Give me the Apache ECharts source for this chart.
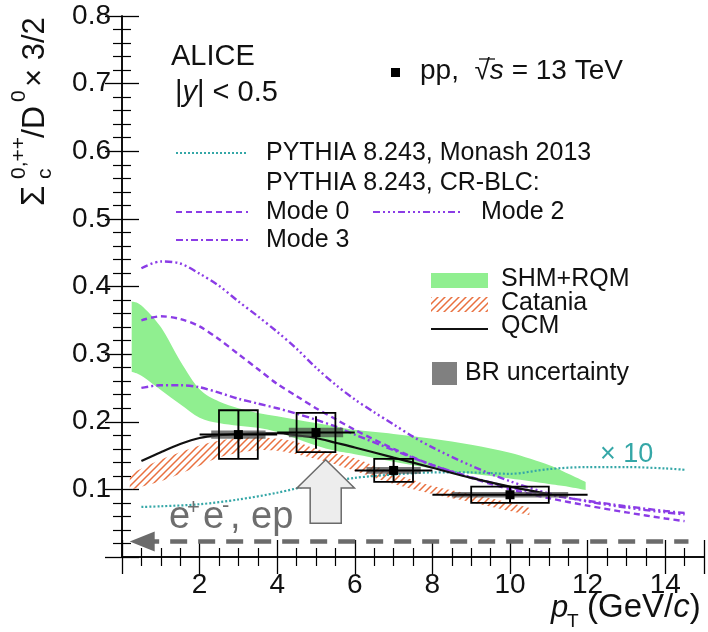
<!DOCTYPE html>
<html>
<head>
<meta charset="utf-8">
<script src="https://cdn.jsdelivr.net/npm/echarts/dist/echarts.min.js"></script>
<style>
  html, body { margin: 0; padding: 0; background: #fff; }
  #main { width: 708px; height: 632px; }
</style>
</head>
<body>
<div id="main"></div>
<script>
const FONT = '"Liberation Sans", Arial, sans-serif';

// ALICE points: pT centre, value, bin edges, errors
const ptX = [3, 5, 7, 10];
const ptY = [0.181, 0.184, 0.128, 0.092];
const binLo = [2, 4, 6, 8];
const binHi = [4, 6, 8, 12];
const statErr = [0.035, 0.024, 0.016, 0.012];
const systErr = [0.036, 0.029, 0.017, 0.012];
const systHalfW = [0.5, 0.5, 0.5, 1.0];
const brErr = [0.006, 0.007, 0.005, 0.004];
const brHalfW = [0.7, 0.7, 0.7, 1.5];

// SHM+RQM band
const shmX  = [0.25, 0.5, 1, 1.5, 2, 2.5, 3, 3.5, 4, 4.5, 5, 5.5, 6, 7, 8, 9, 10, 11, 11.5, 11.95];
const shmHi = [0.378, 0.372, 0.340, 0.290, 0.248, 0.230, 0.220, 0.213, 0.208, 0.203, 0.198, 0.193, 0.188, 0.182, 0.175, 0.166, 0.154, 0.136, 0.123, 0.111];
const shmLo = [0.274, 0.268, 0.247, 0.226, 0.206, 0.198, 0.194, 0.191, 0.185, 0.175, 0.165, 0.157, 0.152, 0.141, 0.131, 0.123, 0.116, 0.108, 0.104, 0.099];

// Catania band
const catX  = [0.2, 1, 1.5, 2, 2.5, 3, 3.5, 4, 4.5, 5, 5.5, 6, 7, 8, 9, 10, 10.5];
const catHi = [0.122, 0.144, 0.155, 0.165, 0.172, 0.176, 0.177, 0.175, 0.170, 0.160, 0.153, 0.146, 0.124, 0.105, 0.093, 0.080, 0.073];
const catLo = [0.099, 0.112, 0.123, 0.135, 0.147, 0.154, 0.158, 0.157, 0.152, 0.145, 0.137, 0.127, 0.108, 0.093, 0.081, 0.068, 0.062];

// QCM
const qcmX = [0.5, 1, 1.5, 2, 2.5, 3, 3.5, 4, 4.5, 5, 5.5, 6, 7, 8, 9, 10, 11];
const qcmY = [0.142, 0.155, 0.167, 0.176, 0.180, 0.182, 0.183, 0.183, 0.180, 0.176, 0.169, 0.162, 0.147, 0.132, 0.117, 0.104, 0.093];

// PYTHIA Monash (x10)
const monX = [0.5, 1, 2, 3, 4, 5, 6, 7, 8, 9, 10, 11, 12, 13, 14, 14.5];
const monY = [0.074, 0.075, 0.078, 0.085, 0.095, 0.108, 0.117, 0.122, 0.125, 0.125, 0.123, 0.130, 0.133, 0.133, 0.131, 0.129];

// PYTHIA CR-BLC modes
const m0X = [0.5, 1, 1.5, 2, 2.5, 3, 3.5, 4, 4.5, 5, 5.5, 6, 7, 8, 9, 10, 11, 12, 13, 14, 14.5];
const m0Y = [0.350, 0.356, 0.352, 0.341, 0.322, 0.300, 0.278, 0.256, 0.238, 0.220, 0.204, 0.188, 0.160, 0.136, 0.117, 0.100, 0.087, 0.076, 0.066, 0.057, 0.053];
const m2X = [0.5, 1, 1.5, 2, 2.5, 3, 3.5, 4, 4.5, 5, 5.5, 6, 6.5, 7, 7.5, 8, 9, 10, 11, 12, 13, 14, 14.5];
const m2Y = [0.427, 0.437, 0.434, 0.419, 0.401, 0.378, 0.356, 0.333, 0.308, 0.280, 0.255, 0.233, 0.214, 0.196, 0.178, 0.162, 0.135, 0.112, 0.094, 0.082, 0.073, 0.066, 0.063];
const m3X = [0.5, 1, 1.5, 2, 2.5, 3, 3.5, 4, 4.5, 5, 5.5, 6, 7, 8, 9, 10, 11, 12, 13, 14, 14.5];
const m3Y = [0.250, 0.254, 0.254, 0.251, 0.243, 0.234, 0.227, 0.220, 0.212, 0.203, 0.193, 0.181, 0.158, 0.136, 0.118, 0.103, 0.092, 0.083, 0.075, 0.068, 0.065];

// e+e-, ep reference level
const eeX = [0.52, 14.6];
const eeY = [0.023, 0.023];

const PURPLE = '#8b3ce6';
const TEAL = '#35a7a7';
const GREEN = '#90ef90';
const ORANGE = '#e9703f';

// hatch pattern for Catania
const hatch = document.createElement('canvas');
hatch.width = 7; hatch.height = 7;
(function () {
  const c = hatch.getContext('2d');
  c.strokeStyle = ORANGE;
  c.lineWidth = 1.5;
  c.beginPath();
  c.moveTo(-1, 8); c.lineTo(8, -1);
  c.moveTo(-4, 4); c.lineTo(4, -4);
  c.moveTo(3, 11); c.lineTo(11, 3);
  c.stroke();
})();
const hatchFill = { image: hatch, repeat: 'repeat' };

// catmull-rom through the given pixel points (drawing only)
function smoothPath(pts, start) {
  let d = (start ? 'M' : 'L') + pts[0][0] + ',' + pts[0][1];
  for (let i = 0; i < pts.length - 1; i++) {
    const p0 = pts[i - 1] || pts[i], p1 = pts[i], p2 = pts[i + 1], p3 = pts[i + 2] || pts[i + 1];
    const c1 = [p1[0] + (p2[0] - p0[0]) / 6, p1[1] + (p2[1] - p0[1]) / 6];
    const c2 = [p2[0] - (p3[0] - p1[0]) / 6, p2[1] - (p3[1] - p1[1]) / 6];
    d += ' C' + c1[0] + ',' + c1[1] + ' ' + c2[0] + ',' + c2[1] + ' ' + p2[0] + ',' + p2[1];
  }
  return d;
}

function band(xs, lo, hi, fill, z) {
  return {
    type: 'custom', silent: true, z: z,
    encode: { x: 0, y: 1 },
    data: xs.map((x, i) => [x, lo[i], hi[i]]),
    renderItem: function (params, api) {
      if (params.dataIndex !== 0) return null;
      const top = xs.map((x, i) => api.coord([x, hi[i]]));
      const bot = xs.map((x, i) => api.coord([x, lo[i]])).reverse();
      return { type: 'path', shape: { pathData: smoothPath(top, true) + ' ' + smoothPath(bot, false) + ' Z' },
        style: { fill: fill } };
    }
  };
}

function curve(xs, ys, color, dash, width) {
  return { type: 'line', smooth: 0.3, symbol: 'none', silent: true, z: 4,
    lineStyle: { color: color, type: dash, width: width },
    data: xs.map((x, i) => [x, ys[i]]) };
}

const axisCommon = {
  axisLine: { lineStyle: { color: '#000', width: 1.5 } },
  axisTick: { inside: true, length: 17, lineStyle: { color: '#000', width: 1.3 } },
  minorTick: { show: true, length: 9, lineStyle: { color: '#000', width: 1.2 } },
  splitLine: { show: false }
};

const chart = echarts.init(document.getElementById('main'));

const option = {
  animation: false,
  grid: { left: 122, right: 4, top: 16, bottom: 75 },
  xAxis: [
    Object.assign({ type: 'value', min: 0, max: 15, interval: 2,
      axisLabel: { fontFamily: FONT, fontSize: 28, color: '#111', margin: 14,
        showMinLabel: false, showMaxLabel: false } }, axisCommon,
      { minorTick: Object.assign({ splitNumber: 4 }, axisCommon.minorTick) }),
    Object.assign({ type: 'value', min: 0, max: 15, interval: 2, position: 'top',
      axisLabel: { show: false } }, axisCommon,
      { minorTick: Object.assign({ splitNumber: 4 }, axisCommon.minorTick) })
  ],
  yAxis: [
    Object.assign({ type: 'value', min: 0, max: 0.8, interval: 0.1,
      axisLabel: { fontFamily: FONT, fontSize: 28, color: '#111', margin: 11,
        showMinLabel: false, formatter: v => v.toFixed(1) } }, axisCommon,
      { minorTick: Object.assign({ splitNumber: 5 }, axisCommon.minorTick) }),
    Object.assign({ type: 'value', min: 0, max: 0.8, interval: 0.1, position: 'right',
      axisLabel: { show: false } }, axisCommon,
      { minorTick: Object.assign({ splitNumber: 5 }, axisCommon.minorTick) })
  ],
  series: [
    band(shmX, shmLo, shmHi, GREEN, 1),
    band(catX, catLo, catHi, hatchFill, 2),
    curve(monX, monY, TEAL, [2, 2], 2.2),
    curve(m0X, m0Y, PURPLE, [6, 4], 2.4),
    curve(m2X, m2Y, PURPLE, [7, 3, 2, 3, 2, 3, 2, 3], 2.4),
    curve(m3X, m3Y, PURPLE, [7, 3, 2, 3], 2.4),
    curve(qcmX, qcmY, '#111', 'solid', 2.2),
    {
      type: 'line', silent: true, z: 3,
      lineStyle: { color: '#6b6b6b', width: 4.5, type: [17, 11] },
      itemStyle: { color: '#6b6b6b' },
      data: eeX.map((x, i) => i === 0
        ? { value: [x, eeY[i]], symbol: 'triangle', symbolSize: [20, 25], symbolRotate: 90 }
        : { value: [x, eeY[i]], symbol: 'none' })
    },
    {
      type: 'custom', z: 6, silent: true,
      encode: { x: 0, y: 1 },
      data: ptX.map((x, i) => [x, ptY[i], i]),
      renderItem: function (params, api) {
        const i = api.value(2);
        const x = api.value(0), y = api.value(1);
        const c = api.coord([x, y]);
        const b0 = api.coord([x - brHalfW[i], y + brErr[i]]);
        const b1 = api.coord([x + brHalfW[i], y - brErr[i]]);
        const s0 = api.coord([x - systHalfW[i], y + systErr[i]]);
        const s1 = api.coord([x + systHalfW[i], y - systErr[i]]);
        const h0 = api.coord([binLo[i], y]);
        const h1 = api.coord([binHi[i], y]);
        const v0 = api.coord([x, y + statErr[i]]);
        const v1 = api.coord([x, y - statErr[i]]);
        return { type: 'group', children: [
          { type: 'rect', shape: { x: b0[0], y: b0[1], width: b1[0] - b0[0], height: b1[1] - b0[1] },
            style: { fill: 'rgba(70,70,70,0.72)' } },
          { type: 'rect', shape: { x: s0[0], y: s0[1], width: s1[0] - s0[0], height: s1[1] - s0[1] },
            style: { fill: 'none', stroke: '#000', lineWidth: 1.8 } },
          { type: 'line', shape: { x1: h0[0], y1: h0[1], x2: h1[0], y2: h1[1] },
            style: { stroke: '#000', lineWidth: 2 } },
          { type: 'line', shape: { x1: v0[0], y1: v0[1], x2: v1[0], y2: v1[1] },
            style: { stroke: '#000', lineWidth: 2 } },
          { type: 'rect', shape: { x: c[0] - 4.5, y: c[1] - 4.5, width: 9, height: 9 },
            style: { fill: '#000' } }
        ] };
      }
    }
  ]
};
chart.setOption(option);

function txt(x, y, s, size, extra) {
  return { type: 'text', x: x, y: y, z: 100,
    style: Object.assign({ text: s, font: size + 'px ' + FONT, fill: '#111',
      align: 'left', verticalAlign: 'middle' }, extra || {}) };
}
function seg(x1, y1, x2, y2, stroke, dash, w) {
  return { type: 'line', z: 100, shape: { x1: x1, y1: y1, x2: x2, y2: y2 },
    style: { stroke: stroke, lineDash: dash, lineWidth: w || 2 } };
}

// big up arrow anchored in data space
const arrX = 5.25, arrTip = 0.1437, arrBase = 0.102, arrBot = 0.05, arrHead = 0.74, arrBody = 0.40;
const P = (x, y) => chart.convertToPixel({ gridIndex: 0 }, [x, y]);
const arrowPts = [
  P(arrX, arrTip), P(arrX + arrHead, arrBase), P(arrX + arrBody, arrBase),
  P(arrX + arrBody, arrBot), P(arrX - arrBody, arrBot), P(arrX - arrBody, arrBase),
  P(arrX - arrHead, arrBase)
];

const ytitle = {
  type: 'group', x: 35, y: 206, rotation: Math.PI / 2, z: 100,
  children: [
    txt(0, 0, 'Σ', 33),
    txt(27, 10, 'c', 21),
    txt(27, -16, '0,++', 21),
    txt(68, 0, '/D', 32),
    txt(104, -16, '0', 21),
    txt(119, 0, '× 3/2', 31)
  ]
};

chart.setOption({
  graphic: [
    ytitle,
    txt(551, 608, 'p', 31, { font: 'italic 31px ' + FONT }),
    txt(567, 622, 'T', 19),
    txt(587, 608, '(GeV/{i|c})', 33, { rich: { i: { font: 'italic 33px ' + FONT } } }),

    txt(171, 57, 'ALICE', 29),
    txt(175, 93, '|{i|y}| < 0.5', 29, { rich: { i: { font: 'italic 29px ' + FONT } } }),
    { type: 'rect', z: 100, shape: { x: 391, y: 68, width: 9, height: 9 }, style: { fill: '#000' } },
    txt(420, 71, 'pp,  √{i|s} = 13 TeV', 28, { rich: { i: { font: 'italic 28px ' + FONT } } }),
    seg(479, 59, 495, 59, '#111', null, 1.3),

    seg(176, 153, 248, 153, TEAL, [2, 2], 2),
    txt(266, 153, 'PYTHIA 8.243, Monash 2013', 25),
    txt(266, 183, 'PYTHIA 8.243, CR-BLC:', 25),
    seg(176, 212, 248, 212, PURPLE, [6, 4], 2.2),
    txt(266, 212, 'Mode 0', 25),
    seg(373, 212, 463, 212, PURPLE, [7, 3, 2, 3, 2, 3, 2, 3], 2.2),
    txt(481, 212, 'Mode 2', 25),
    seg(176, 240, 248, 240, PURPLE, [7, 3, 2, 3], 2.2),
    txt(266, 240, 'Mode 3', 25),

    { type: 'rect', z: 100, shape: { x: 431, y: 273, width: 57, height: 15 }, style: { fill: GREEN } },
    txt(501, 279, 'SHM+RQM', 25),
    { type: 'rect', z: 100, shape: { x: 431, y: 297, width: 57, height: 15 }, style: { fill: hatchFill } },
    txt(501, 303, 'Catania', 25),
    seg(431, 329, 488, 329, '#111', null, 2.2),
    txt(501, 326, 'QCM', 25),
    { type: 'rect', z: 100, shape: { x: 432, y: 362, width: 25, height: 23 }, style: { fill: '#808080' } },
    txt(465, 373, 'BR uncertainty', 25),

    txt(600, 455, '× 10', 27, { fill: TEAL }),

    txt(169, 518, 'e', 38, { fill: '#6e6e6e' }),
    txt(187, 508, '+', 22, { fill: '#6e6e6e' }),
    txt(203, 518, 'e', 38, { fill: '#6e6e6e' }),
    txt(222, 506, '-', 22, { fill: '#6e6e6e' }),
    txt(230, 518, ', ep', 38, { fill: '#6e6e6e' }),

    { type: 'polygon', z: 90, shape: { points: arrowPts },
      style: { fill: '#ededed', stroke: '#6a6a6a', lineWidth: 1.5 } }
  ]
});
</script>
</body>
</html>
